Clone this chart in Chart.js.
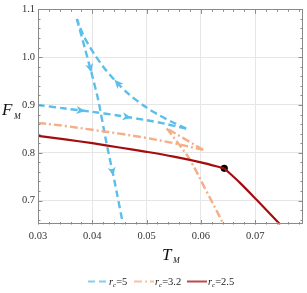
<!DOCTYPE html>
<html><head><meta charset="utf-8">
<script src="https://cdn.jsdelivr.net/npm/chart.js@4"></script>
<style>html,body{margin:0;padding:0;background:#fff}</style>
</head><body>
<canvas id="c" width="307" height="293"></canvas>
<script>
// ---- data ----
const xTicks = [0.03, 0.04, 0.05, 0.06, 0.07];
const xTickLabels = ['0.03', '0.04', '0.05', '0.06', '0.07'];
const yTicks = [0.7, 0.8, 0.9, 1.0, 1.1];
const yTickLabels = ['0.7', '0.8', '0.9', '1.0', '1.1'];

// r_c = 5 (blue, swallowtail)
const blueSmallT = [0.030, 0.035, 0.040, 0.045, 0.050, 0.0535, 0.0557, 0.0573];
const blueSmallF = [0.900, 0.8925, 0.8855, 0.8775, 0.8680, 0.8605, 0.8545, 0.8505];
const blueMidT = [0.0573, 0.05478, 0.05235, 0.04993, 0.04688, 0.04474, 0.04323, 0.04201, 0.04049, 0.03927, 0.03836, 0.03715];
const blueMidF = [0.8505, 0.8639, 0.8783, 0.8950, 0.9211, 0.9443, 0.9633, 0.9800, 1.0042, 1.0265, 1.0453, 1.0797];
const blueLargeT = [0.03715, 0.03867, 0.03990, 0.04110, 0.04250, 0.04410, 0.04566];
const blueLargeF = [1.0797, 1.0171, 0.9650, 0.9100, 0.8265, 0.7400, 0.6500];

// arrows on the r_c = 5 curve: branch and position (T)
const arrowBranch = ['small', 'small', 'mid', 'large', 'large'];
const arrowT = [0.0378, 0.0463, 0.0447, 0.0396, 0.0437];

// r_c = 3.2 (orange)
const orangeSmallT = [0.030, 0.035, 0.040, 0.045, 0.050, 0.055, 0.0604];
const orangeSmallF = [0.8626, 0.856, 0.848, 0.840, 0.831, 0.820, 0.806];
const orangeMidT = [0.0604, 0.0570, 0.0537];
const orangeMidF = [0.806, 0.829, 0.851];
const orangeLargeT = [0.0537, 0.0560, 0.0580, 0.0610, 0.0642];
const orangeLargeF = [0.851, 0.817, 0.785, 0.720, 0.650];

// r_c = 2.5 (red)
const redT1 = [0.030, 0.035, 0.040, 0.045, 0.050, 0.055, 0.060, 0.0643];
const redF1 = [0.8355, 0.828, 0.820, 0.811, 0.802, 0.792, 0.780, 0.7674];
const redT2 = [0.0643, 0.0672, 0.0703, 0.0746];
const redF2 = [0.7674, 0.737, 0.701, 0.650];

const dotT = [0.0643];
const dotF = [0.7674];

const legendLabels = ['5', '3.2', '2.5'];

// ---- styles ----
const BLUE = '#5bbfea', ORANGE = '#f5ae86', RED = '#a30d0d';
const SERIF = "'Liberation Serif', 'DejaVu Serif', serif";

const pts = (T, F) => T.map((t, i) => ({x: t, y: F[i]}));
function line(T, F, color, dash, w, tension) {
  return {data: pts(T, F), showLine: true, borderColor: color, backgroundColor: color,
    borderWidth: w, borderDash: dash, pointRadius: 0, pointHoverRadius: 0,
    tension: tension, clip: 0, borderCapStyle: 'butt'};
}
const blueDash = [7, 4];
const orangeDash = [8, 3, 2, 3];

const branches = {small: [blueSmallT, blueSmallF], mid: [blueMidT, blueMidF], large: [blueLargeT, blueLargeF]};

const framePlugin = {
  id: 'frame',
  afterDatasetsDraw(chart) {
    const {ctx, scales: {x, y}} = chart;
    ctx.save();
    ctx.fillStyle = BLUE;
    arrowBranch.forEach((b, k) => {
      const [T, F] = branches[b];
      const t = arrowT[k];
      let i = 0;
      for (let j = 0; j < T.length - 1; j++) {
        const lo = Math.min(T[j], T[j+1]), hi = Math.max(T[j], T[j+1]);
        if (t >= lo && t <= hi) { i = j; break; }
      }
      const px0 = x.getPixelForValue(T[i]), py0 = y.getPixelForValue(F[i]);
      const px1 = x.getPixelForValue(T[i+1]), py1 = y.getPixelForValue(F[i+1]);
      const u = (t - T[i]) / (T[i+1] - T[i]);
      const px = px0 + u * (px1 - px0), py = py0 + u * (py1 - py0);
      const ang = Math.atan2(py1 - py0, px1 - px0);
      ctx.save();
      ctx.translate(px, py);
      ctx.rotate(ang);
      ctx.beginPath();
      ctx.moveTo(5, 0);
      ctx.lineTo(-4, -4);
      ctx.lineTo(-1.5, 0);
      ctx.lineTo(-4, 4);
      ctx.closePath();
      ctx.fill();
      ctx.restore();
    });
    ctx.restore();
  },
  afterDraw(chart) {
    const {ctx, chartArea: a, scales: {x, y}} = chart;
    ctx.save();
    ctx.strokeStyle = '#8a8a8a';
    ctx.lineWidth = 1;
    ctx.strokeRect(Math.round(a.left) + 0.5, Math.round(a.top) + 0.5,
      Math.round(a.right - a.left) - 1, Math.round(a.bottom - a.top) - 1);
    ctx.beginPath();
    for (let k = 0; k <= 25; k++) {
      const v = 0.03 + k * 0.002;
      if (v > x.max + 1e-9) break;
      const L = (k % 5 === 0) ? 4.5 : 2.5;
      const px = Math.round(x.getPixelForValue(v)) + 0.5;
      ctx.moveTo(px, a.bottom); ctx.lineTo(px, a.bottom - L);
      ctx.moveTo(px, a.top); ctx.lineTo(px, a.top + L);
    }
    for (let k = 0; k <= 25; k++) {
      const v = 0.66 + k * 0.02;
      if (v > y.max + 1e-9) break;
      const major = Math.abs(v * 10 - Math.round(v * 10)) < 1e-6;
      const L = major ? 4.5 : 2.5;
      const py = Math.round(y.getPixelForValue(v)) + 0.5;
      ctx.moveTo(a.left, py); ctx.lineTo(a.left + L, py);
      ctx.moveTo(a.right, py); ctx.lineTo(a.right - L, py);
    }
    ctx.stroke();

    ctx.fillStyle = '#111';
    ctx.textBaseline = 'alphabetic';
    ctx.textAlign = 'left';
    ctx.font = 'italic 17px ' + SERIF;
    ctx.fillText('F', 2, 115);
    ctx.font = 'italic 8px ' + SERIF;
    ctx.fillText('M', 14, 119);
    ctx.font = 'italic 17px ' + SERIF;
    ctx.fillText('T', 162, 260);
    ctx.font = 'italic 8px ' + SERIF;
    ctx.fillText('M', 173, 263);

    const items = [
      {c: BLUE, d: blueDash, w: 2.2, lab: legendLabels[0], x0: 88},
      {c: ORANGE, d: orangeDash, w: 2.2, lab: legendLabels[1], x0: 134},
      {c: RED, d: [], w: 2, lab: legendLabels[2], x0: 187}
    ];
    const ly = 281.5;
    items.forEach(it => {
      ctx.save();
      ctx.globalAlpha = 0.75;
      ctx.strokeStyle = it.c; ctx.lineWidth = it.w; ctx.setLineDash(it.d);
      ctx.beginPath(); ctx.moveTo(it.x0, ly); ctx.lineTo(it.x0 + 20, ly); ctx.stroke();
      ctx.restore();
      let tx = it.x0 + 21;
      ctx.fillStyle = '#222';
      ctx.font = 'italic 10.5px ' + SERIF;
      ctx.fillText('r', tx, 285); tx += ctx.measureText('r').width;
      ctx.font = 'italic 7px ' + SERIF;
      ctx.fillText('c', tx, 287); tx += ctx.measureText('c').width;
      ctx.font = '10.5px ' + SERIF;
      ctx.fillText('=' + it.lab, tx, 285);
    });
    ctx.restore();
  }
};

new Chart(document.getElementById('c'), {
  type: 'scatter',
  data: {datasets: [
    line(redT1, redF1, RED, [], 2.2, 0.35),
    line(redT2, redF2, RED, [], 2.2, 0.35),
    line(orangeSmallT, orangeSmallF, ORANGE, orangeDash, 2.4, 0.35),
    line(orangeMidT, orangeMidF, ORANGE, orangeDash, 2.4, 0.35),
    line(orangeLargeT, orangeLargeF, ORANGE, orangeDash, 2.4, 0.35),
    line(blueSmallT, blueSmallF, BLUE, blueDash, 2.4, 0.3),
    line(blueMidT, blueMidF, BLUE, blueDash, 2.4, 0.3),
    line(blueLargeT, blueLargeF, BLUE, blueDash, 2.4, 0.2),
    {data: pts(dotT, dotF), showLine: false, pointRadius: 3.6, backgroundColor: '#000', borderColor: '#000', borderWidth: 0}
  ]},
  options: {
    responsive: false, animation: false, events: [],
    layout: {padding: {left: 0, right: 2.5, top: 9, bottom: 0}},
    plugins: {legend: {display: false}, tooltip: {enabled: false}},
    scales: {
      x: {
        type: 'linear', min: 0.03, max: 0.0788,
        afterBuildTicks: s => { s.ticks = xTicks.map(v => ({value: v})); },
        afterFit: s => { s.height = 68.5; },
        ticks: {callback: (v, i) => xTickLabels[i], font: {family: SERIF, size: 10.5}, color: '#333', padding: 5, maxRotation: 0, autoSkip: false},
        grid: {color: '#e6e6e6', drawTicks: false, lineWidth: 1},
        border: {display: false}
      },
      y: {
        type: 'linear', min: 0.65, max: 1.1,
        afterBuildTicks: s => { s.ticks = yTicks.map(v => ({value: v})); },
        afterFit: s => { s.width = 38; },
        ticks: {callback: (v, i) => yTickLabels[i], font: {family: SERIF, size: 10.5}, color: '#333', padding: 3, autoSkip: false},
        grid: {color: '#e6e6e6', drawTicks: false, lineWidth: 1},
        border: {display: false}
      }
    }
  },
  plugins: [framePlugin]
});
</script>
</body></html>
